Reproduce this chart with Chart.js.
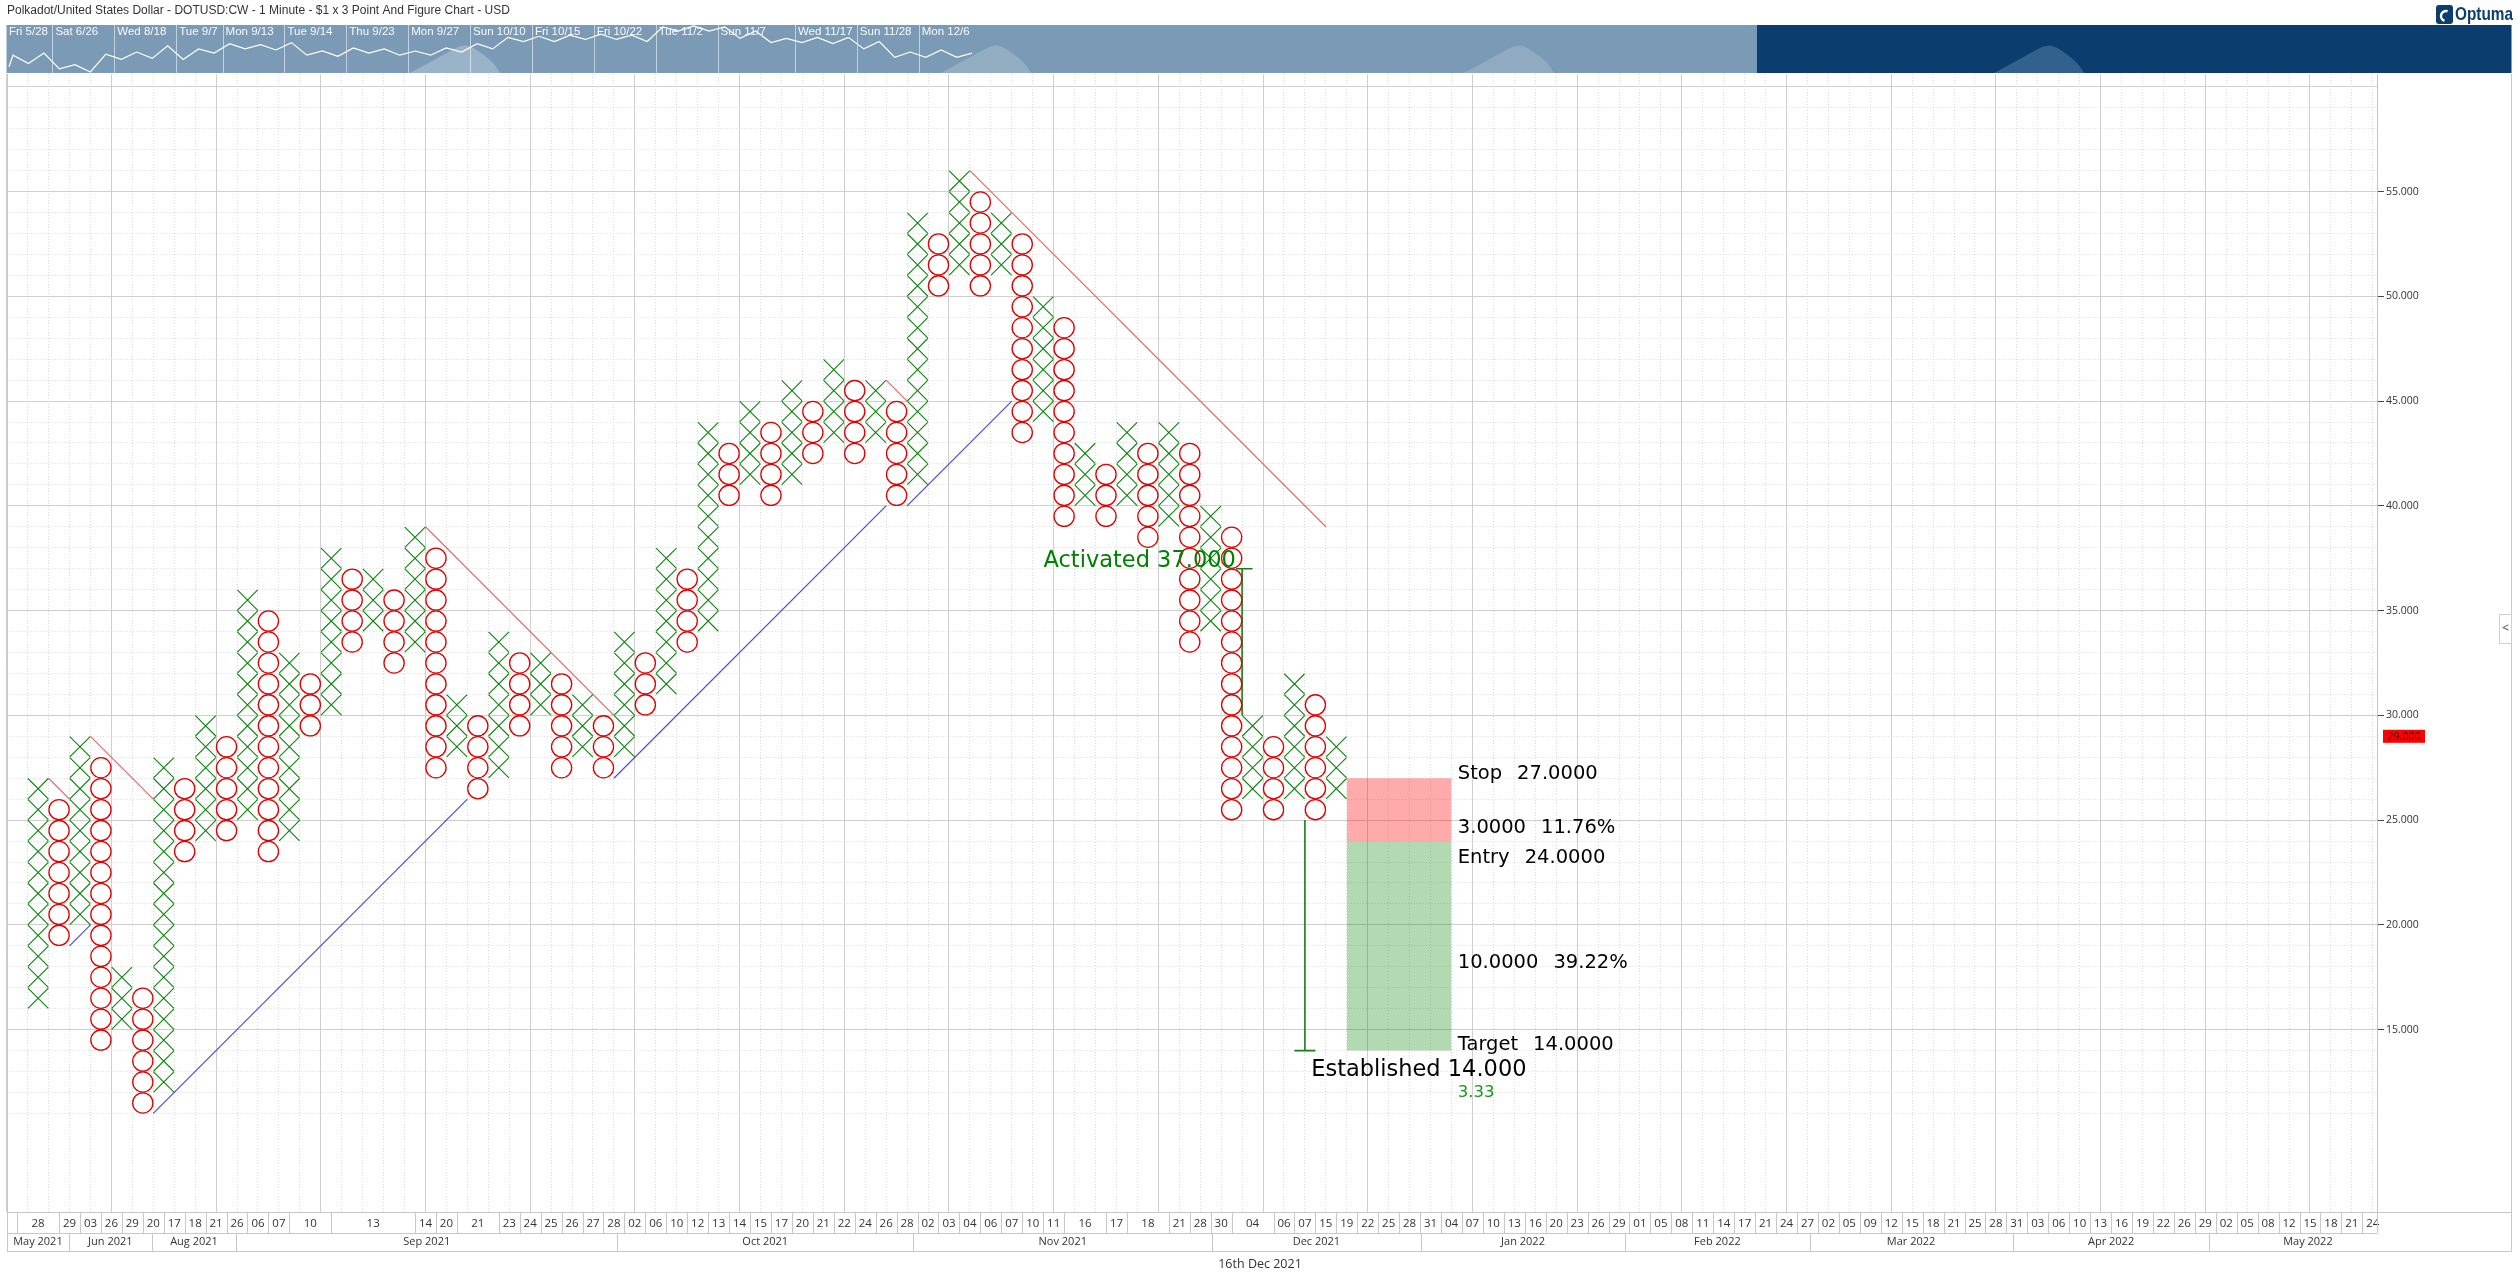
<!DOCTYPE html>
<html>
<head>
<meta charset="utf-8">
<script src="https://cdn.jsdelivr.net/npm/chart.js@4.4.1/dist/chart.umd.min.js"></script>
<style>
html, body { margin: 0; padding: 0; background: #fff; overflow: hidden; }
canvas { display: block; }
</style>
</head>
<body>
<canvas id="pnf" width="2518" height="1284" style="width:2518px;height:1284px"></canvas>
<script>
// columns of the point & figure chart, box size $1: each column runs from low to high
var colKind = ['X','O','X','O','X','O','X','O','X','O','X','O','X','O','X','O','X','O','X','O',
               'X','O','X','O','X','O','X','O','X','O','X','O','X','O','X','O','X','O','X','O',
               'X','O','X','O','X','O','X','O','X','O','X','O','X','O','X','O','X','O','X','O',
               'X','O','X'];
var colLow  = [16,19,20,14,15,11,12,23,24,24,25,23,24,29,30,33,34,32,33,27,
               28,26,27,29,30,27,28,27,28,30,31,33,34,40,41,40,41,42,43,42,
               43,40,41,50,51,50,51,43,44,39,40,39,40,38,39,33,34,25,26,25,
               26,25,26];
var colHigh = [27,26,29,28,18,17,28,27,30,29,36,35,33,32,38,37,37,36,39,38,
               31,30,34,33,33,32,31,30,34,33,38,37,44,43,45,44,46,45,47,46,
               46,45,54,53,56,55,54,53,50,49,43,42,44,43,44,43,40,39,30,29,
               32,31,29];

// trend lines [col1, price1, col2, price2]
var resistLines = [[0.5,27,1.5,26],[2.5,29,5.5,26],[18.5,39,27.5,30],[40.5,46,41.5,45],[44.5,56,61.5,39]];
var supportLines = [[1.5,19,2.5,20],[5.5,11,20.5,26],[27.5,27,40.5,40],[41.5,40,46.5,45]];
var countLines = [[57.5,37,57.5,30],[57.2,37,58,37],[60.5,25,60.5,14],[60,14,61,14]];

var activatedPrice = 37, stopPrice = 27, entryPrice = 24, targetPrice = 14, lastPrice = 29;
var zoneCols = [62.5, 67.5];
var tradeLabels = [['Stop', '27.0000'], ['3.0000', '11.76%'], ['Entry', '24.0000'], ['10.0000', '39.22%'], ['Target', '14.0000']];

var priceTicks = [15, 20, 25, 30, 35, 40, 45, 50, 55, 60];

// date row: column where each label cell starts
var dayTickCols = [-1,1,2,3,4,5,6,7,8,9,10,11,12,14,18,19,20,22,23,24,25,26,27,28,29,30,31,32,33,34,
                   35,36,37,38,39,40,41,42,43,44,45,46,47,48,49,51,52,54,55,56,57,
                   59,60,61,62,63,64,65,66,67,68,69,70,71,72,73,74,75,76,77,78,79,80,81,82,83,84,
                   85,86,87,88,89,90,91,92,93,94,95,96,97,98,99,100,101,102,103,104,105,106,107,
                   108,109,110,111];
var dayTickText = ['28','29','03','26','29','20','17','18','21','26','06','07','10','13','14','20','21',
                   '23','24','25','26','27','28','02','06','10','12','13','14','15','17','20','21','22',
                   '24','26','28','02','03','04','06','07','10','11','16','17','18','21','28','30','04',
                   '06','07','15','19','22','25','28','31','04','07','10','13','16','20','23','26','29',
                   '01','05','08','11','14','17','21','24','27','02','05','09','12','15','18','21','25',
                   '28','31','03','06','10','13','16','19','22','26','29','02','05','08','12','15','18',
                   '21','24'];
var monthEdges = [-1.5, 1.48, 5.42, 9.47, 27.65, 41.8, 56.07, 66.03, 75.8, 84.6, 94.3, 103.7, 113.1];
var monthText = ['May 2021','Jun 2021','Aug 2021','Sep 2021','Oct 2021','Nov 2021','Dec 2021',
                 'Jan 2022','Feb 2022','Mar 2022','Apr 2022','May 2022'];

// overview strip labels
var navCols = [0, 3, 7, 11, 14, 18, 22, 26, 30, 34, 38, 42, 46, 51, 55, 59];
var navText = ['Fri 5/28','Sat 6/26','Wed 8/18','Tue 9/7','Mon 9/13','Tue 9/14','Thu 9/23','Mon 9/27',
               'Sun 10/10','Fri 10/15','Fri 10/22','Tue 11/2','Sun 11/7','Wed 11/17','Sun 11/28','Mon 12/6'];

var GREEN = '#0a850a', RED = '#e00000';
var NUM = "'Open Sans', sans-serif";
var NARROW = "'Liberation Sans Narrow', 'Liberation Sans', sans-serif";
var ANNO = "'DejaVu Sans', sans-serif";

var xBoxes = [], oBoxes = [];
colKind.forEach(function (kind, c) {
    for (var p = colLow[c]; p < colHigh[c]; p++) {
        (kind === 'X' ? xBoxes : oBoxes).push({x: c, y: p + 0.5});
    }
});

function segment(s, color, width) {
    return {
        type: 'line',
        data: [{x: s[0], y: s[1]}, {x: s[2], y: s[3]}],
        borderColor: color, borderWidth: width,
        pointRadius: 0, fill: false, tension: 0, order: 2
    };
}

function zone(top, bottom, color) {
    return {
        type: 'line',
        data: [{x: zoneCols[0], y: top}, {x: zoneCols[1], y: top}],
        borderWidth: 0, borderColor: 'rgba(0,0,0,0)', backgroundColor: color,
        pointRadius: 0, fill: {value: bottom}, order: 3
    };
}

var datasets = [
    {type: 'scatter', data: xBoxes, showLine: false, pointStyle: 'crossRot', pointRadius: 14.4,
     pointHoverRadius: 14.4, borderColor: GREEN, backgroundColor: 'rgba(0,0,0,0)', borderWidth: 1.1, order: 1},
    {type: 'scatter', data: oBoxes, showLine: false, pointStyle: 'circle', pointRadius: 10.1,
     pointHoverRadius: 10.1, borderColor: RED, backgroundColor: '#ffffff', borderWidth: 1.3, order: 1},
    zone(stopPrice, entryPrice, 'rgba(255,0,0,0.33)'),
    zone(entryPrice, targetPrice, 'rgba(0,128,0,0.30)')
];
resistLines.forEach(function (s) { datasets.push(segment(s, '#e06a6a', 1.2)); });
supportLines.forEach(function (s) { datasets.push(segment(s, '#4a4ae0', 1.2)); });
countLines.forEach(function (s) { datasets.push(segment(s, '#1a7a1a', 1.6)); });

// grid positions
var colEdges = [], majorEdges = [], minorPrices = [];
for (var k = -2; k <= 111; k++) colEdges.push(k + 0.5);
for (var m = -1.5; m <= 111; m += 5) majorEdges.push(m);
for (var q = 11; q <= 60; q++) minorPrices.push(q);

var dayCenters = dayTickCols.map(function (c, i) {
    var next = i + 1 < dayTickCols.length ? dayTickCols[i + 1] : c + 1;
    return (c + next) / 2;
});
var monthCenters = monthText.map(function (t, i) { return (monthEdges[i] + monthEdges[i + 1]) / 2; });

function setTicks(values) {
    return function (scale) { scale.ticks = values.map(function (v) { return {value: v}; }); };
}
function fixSize(w, h) {
    return function (scale) {
        if (w !== null) scale.width = w;
        if (h !== null) scale.height = h;
        scale.paddingLeft = 0; scale.paddingRight = 0;
        scale.paddingTop = 0; scale.paddingBottom = 0;
    };
}

var X_MIN = -1.5, X_MAX = 111.7, Y_MIN = 6.32, Y_MAX = 60.61;

var decor = {
    id: 'decor',
    beforeDraw: function (chart) {
        var ctx = chart.ctx;
        ctx.save();
        ctx.fillStyle = '#ffffff';
        ctx.fillRect(0, 0, chart.width, chart.height);
        ctx.restore();
    },
    afterDraw: function (chart) {
        var ctx = chart.ctx, xs = chart.scales.x, ys = chart.scales.y, area = chart.chartArea;
        var L = area.left, R = area.right, B = area.bottom;
        var outerR = 2511.5;
        ctx.save();

        // title
        ctx.fillStyle = '#333';
        ctx.font = '12px ' + NARROW;
        ctx.textBaseline = 'middle';
        ctx.textAlign = 'left';
        ctx.fillText('Polkadot/United States Dollar - DOTUSD:CW - 1 Minute - $1 x 3 Point And Figure Chart - USD', 7, 11);

        // logo
        ctx.fillStyle = '#0b3d6e';
        ctx.beginPath();
        ctx.roundRect(2436, 5, 17, 19, 3);
        ctx.fill();
        ctx.strokeStyle = '#ffffff';
        ctx.lineWidth = 2.5;
        ctx.beginPath();
        ctx.arc(2446, 16, 5, Math.PI * 0.6, Math.PI * 1.6);
        ctx.stroke();
        ctx.fillStyle = '#0b3d6e';
        ctx.font = 'bold 19px ' + NARROW;
        var lw = ctx.measureText('Optuma').width;
        ctx.save();
        ctx.translate(2455, 15);
        ctx.scale(58 / lw, 1);
        ctx.fillText('Optuma', 0, 0);
        ctx.restore();

        // overview strip
        var navTop = 25, navBot = 73;
        ctx.fillStyle = '#7a9ab6';
        ctx.fillRect(6.5, navTop, 1757 - 6.5, navBot - navTop);
        ctx.fillStyle = '#0b3d6e';
        ctx.fillRect(1757, navTop, outerR - 1757, navBot - navTop);
        [[466, '#9bb3c8'], [997, '#93adc3'], [1520, '#90aac1'], [2050, '#33618d']].forEach(function (f) {
            var cx = f[0];
            ctx.fillStyle = f[1];
            ctx.beginPath();
            ctx.moveTo(cx - 56, navBot);
            ctx.lineTo(cx - 12, navTop + 24);
            ctx.quadraticCurveTo(cx, navTop + 16, cx + 12, navTop + 26);
            ctx.quadraticCurveTo(cx + 28, navTop + 36, cx + 34, navBot);
            ctx.closePath();
            ctx.fill();
        });
        var navX = function (c) { return 9 + 15.47 * c; };
        var navY = function (p) { return Math.max(navTop + 1, 72 - (p - 11) * 1.05); };
        ctx.strokeStyle = 'rgba(255,255,255,0.55)';
        ctx.lineWidth = 1;
        navCols.forEach(function (c, i) {
            if (i === 0) return;
            var x = Math.round(navX(c) - 3) + 0.5;
            ctx.beginPath(); ctx.moveTo(x, navTop); ctx.lineTo(x, navBot); ctx.stroke();
        });
        ctx.fillStyle = 'rgba(255,255,255,0.95)';
        ctx.font = '11.5px ' + NARROW;
        navCols.forEach(function (c, i) { ctx.fillText(navText[i], navX(c), navTop + 7); });
        ctx.strokeStyle = '#ffffff';
        ctx.lineWidth = 1.2;
        ctx.beginPath();
        colKind.forEach(function (kind, c) {
            var p = kind === 'X' ? colHigh[c] : colLow[c];
            if (c === 0) ctx.moveTo(navX(c), navY(colLow[c]));
            ctx.lineTo(navX(c) + 4, navY(p));
        });
        ctx.stroke();

        // frame and date rows
        ctx.strokeStyle = '#c8c8c8';
        ctx.lineWidth = 1;
        var hline = function (y, x1, x2) { ctx.beginPath(); ctx.moveTo(x1, y); ctx.lineTo(x2, y); ctx.stroke(); };
        var vline = function (x, y1, y2) { ctx.beginPath(); ctx.moveTo(x, y1); ctx.lineTo(x, y2); ctx.stroke(); };
        var dayTop = Math.round(B) + 0.5, dayBot = 1233.5, monBot = 1251.5;
        hline(dayTop, L, outerR);
        hline(dayBot, L, R);
        hline(monBot, L, outerR);
        vline(Math.round(L) + 0.5, area.top, monBot);
        vline(outerR, area.top, monBot);
        dayTickCols.forEach(function (c) {
            var x = Math.round(xs.getPixelForValue(c)) + 0.5;
            if (x > L && x < R) vline(x, dayTop, dayBot);
        });
        vline(Math.round(R) + 0.5, dayTop, dayBot);
        monthEdges.forEach(function (e, i) {
            if (i === 0 || i === monthEdges.length - 1) return;
            vline(Math.round(xs.getPixelForValue(e)) + 0.5, dayBot, monBot);
        });

        ctx.fillStyle = '#333';
        ctx.font = '12.5px ' + NUM;
        ctx.textAlign = 'center';
        ctx.fillText('16th Dec 2021', 1260, 1264);

        // last price marker
        var py = ys.getPixelForValue(lastPrice);
        ctx.fillStyle = '#ff0000';
        ctx.fillRect(2383, py - 6.5, 42, 13);
        ctx.fillStyle = '#3a0000';
        ctx.font = '10.5px ' + NUM;
        ctx.fillText(lastPrice.toFixed(3), 2404, py + 0.5);

        // side button
        ctx.fillStyle = '#ffffff';
        ctx.strokeStyle = '#cfcfcf';
        ctx.fillRect(2499.5, 614.5, 12, 29);
        ctx.strokeRect(2499.5, 614.5, 12, 29);
        ctx.fillStyle = '#777';
        ctx.font = 'bold 12px ' + NUM;
        ctx.fillText('<', 2505.5, 629);

        // pattern annotations
        ctx.textBaseline = 'alphabetic';
        ctx.textAlign = 'right';
        ctx.fillStyle = '#008000';
        ctx.font = '22.5px ' + ANNO;
        ctx.fillText('Activated ' + activatedPrice.toFixed(3), xs.getPixelForValue(57.2), ys.getPixelForValue(activatedPrice) - 1.4);

        ctx.textAlign = 'left';
        ctx.fillStyle = '#000';
        ctx.fillText('Established ' + targetPrice.toFixed(3), xs.getPixelForValue(60.8), ys.getPixelForValue(targetPrice) + 25.5);

        var lx = xs.getPixelForValue(67.8);
        var rows = [
            ys.getPixelForValue(stopPrice) + 1,
            ys.getPixelForValue(entryPrice) - 8,
            ys.getPixelForValue(entryPrice) + 22,
            ys.getPixelForValue(entryPrice) + 127,
            ys.getPixelForValue(targetPrice) - 1
        ];
        ctx.font = '19.5px ' + ANNO;
        tradeLabels.forEach(function (t, i) {
            ctx.fillText(t[0], lx, rows[i]);
            ctx.fillText(t[1], lx + ctx.measureText(t[0]).width + 15, rows[i]);
        });
        ctx.fillStyle = '#119911';
        ctx.font = '16.5px ' + ANNO;
        ctx.fillText(((entryPrice - targetPrice) / (stopPrice - entryPrice)).toFixed(2), lx, ys.getPixelForValue(targetPrice) + 46);

        ctx.restore();
    }
};

var chart = new Chart(document.getElementById('pnf').getContext('2d'), {
    type: 'scatter',
    data: {datasets: datasets},
    options: {
        responsive: false,
        animation: false,
        devicePixelRatio: 1,
        events: [],
        layout: {autoPadding: false, padding: {top: 74, bottom: 32.5, left: 6.7, right: 0}},
        plugins: {legend: {display: false}, tooltip: {enabled: false}},
        scales: {
            x: {
                type: 'linear', position: 'bottom', min: X_MIN, max: X_MAX, weight: 0,
                afterBuildTicks: setTicks(colEdges), afterFit: fixSize(null, 0),
                grid: {color: '#dadada', lineWidth: 1, drawTicks: false},
                border: {display: false, dash: [1, 2]},
                ticks: {display: false}
            },
            xMaj: {
                type: 'linear', position: 'bottom', min: X_MIN, max: X_MAX, weight: 0,
                afterBuildTicks: setTicks(majorEdges), afterFit: fixSize(null, 0),
                grid: {color: '#cfcfcf', lineWidth: 1, drawTicks: false},
                border: {display: false},
                ticks: {display: false}
            },
            xDay: {
                type: 'linear', position: 'bottom', min: X_MIN, max: X_MAX, weight: 1,
                afterBuildTicks: setTicks(dayCenters), afterFit: fixSize(null, 21.5),
                grid: {display: false, drawTicks: false},
                border: {display: false},
                ticks: {
                    autoSkip: false, maxRotation: 0, minRotation: 0, padding: 4.9,
                    color: '#333', font: {family: NUM, size: 11.5},
                    callback: function (v, i) { return dayTickText[i]; }
                }
            },
            xMon: {
                type: 'linear', position: 'bottom', min: X_MIN, max: X_MAX, weight: 2,
                afterBuildTicks: setTicks(monthCenters), afterFit: fixSize(null, 18.5),
                grid: {display: false, drawTicks: false},
                border: {display: false},
                ticks: {
                    autoSkip: false, maxRotation: 0, minRotation: 0, padding: 2.7,
                    color: '#333', font: {family: NUM, size: 11},
                    callback: function (v, i) { return monthText[i]; }
                }
            },
            y: {
                type: 'linear', position: 'right', min: Y_MIN, max: Y_MAX, weight: 0,
                afterBuildTicks: setTicks(minorPrices), afterFit: fixSize(0, null),
                grid: {color: '#dadada', lineWidth: 1, drawTicks: false},
                border: {display: false, dash: [1, 2]},
                ticks: {display: false}
            },
            yMaj: {
                type: 'linear', position: 'right', min: Y_MIN, max: Y_MAX, weight: 1,
                afterBuildTicks: setTicks(priceTicks), afterFit: fixSize(141, null),
                grid: {
                    color: '#cfcfcf', lineWidth: 1, drawTicks: true, tickLength: 7,
                    tickColor: function (c) { return c.tick && c.tick.value === 60 ? 'rgba(0,0,0,0)' : '#444'; }
                },
                border: {display: true, color: '#c4c4c4'},
                ticks: {
                    padding: 2, color: '#333', font: {family: NUM, size: 10.5},
                    callback: function (v) { return v === 60 ? '' : v.toFixed(3); }
                }
            }
        }
    },
    plugins: [decor]
});
</script>
</body>
</html>
